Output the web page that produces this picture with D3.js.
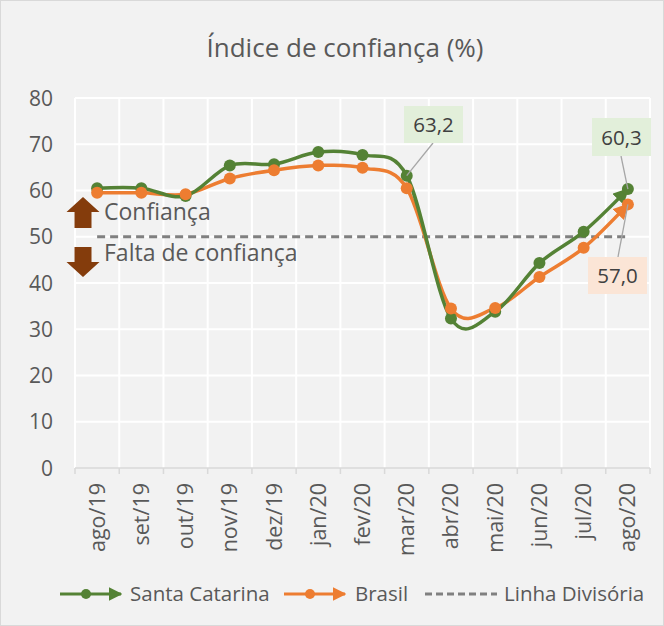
<!DOCTYPE html>
<html><head><meta charset="utf-8">
<script src="https://cdn.jsdelivr.net/npm/d3@7"></script>
<style>body{margin:0;background:#fff}svg{display:block}text{font-family:"Open Sans",sans-serif;fill:#595959}</style>
</head><body><svg id="c" width="664" height="626"></svg>
<script>
const categories = ["ago/19","set/19","out/19","nov/19","dez/19","jan/20","fev/20","mar/20","abr/20","mai/20","jun/20","jul/20","ago/20"];
const santaCatarina = [60.5,60.5,58.8,65.4,65.7,68.3,67.7,63.2,32.3,33.8,44.3,51.1,60.3];
const brasil = [59.5,59.5,59.2,62.6,64.4,65.4,64.9,60.5,34.5,34.6,41.3,47.6,57.0];
const divisoria = [50,50,50,50,50,50,50,50,50,50,50,50,50];
const yTicks = [0,10,20,30,40,50,60,70,80];
const seriesNames = ["Santa Catarina","Brasil","Linha Divisória"];
const title = "Índice de confiança (%)";

const svg = d3.select("#c");
const W = 664, H = 626;
svg.append("rect").attr("x",0.5).attr("y",0.5).attr("width",W-1).attr("height",H-1).attr("fill","#F2F2F2").attr("stroke","#D9D9D9");

const x = d3.scaleBand().domain(categories).range([75,650]).padding(0);
const cx = d => x(d) + x.bandwidth()/2;
const y = d3.scaleLinear().domain([0,80]).range([468,98]);

const green = "#548235", orange = "#ED7D31", gray = "#808080";

// gridlines
const g = svg.append("g");
g.selectAll(".hg").data(yTicks.slice(1)).join("line")
  .attr("x1",75).attr("x2",650).attr("y1",d=>y(d)).attr("y2",d=>y(d))
  .attr("stroke","#fff").attr("stroke-width",2);
const bounds = categories.map(c=>x(c)).concat([x.range()[1]]);
g.selectAll(".vg").data(bounds).join("line")
  .attr("x1",d=>d).attr("x2",d=>d).attr("y1",y(80)).attr("y2",y(0))
  .attr("stroke","#fff").attr("stroke-width",2);

// y axis labels
svg.append("g").selectAll("text").data(yTicks).join("text")
  .attr("x",53).attr("y",d=>y(d)+7.5).attr("text-anchor","end")
  .attr("font-size",21).text(d=>d);

// x axis
svg.append("line").attr("x1",75).attr("x2",650).attr("y1",y(0)).attr("y2",y(0)).attr("stroke","#D9D9D9").attr("stroke-width",1.5);
svg.append("g").selectAll("line").data(bounds).join("line")
  .attr("x1",d=>d).attr("x2",d=>d).attr("y1",y(0)).attr("y2",y(0)+6).attr("stroke","#D9D9D9").attr("stroke-width",1.5);
svg.append("g").selectAll("text").data(categories).join("text")
  .attr("transform",d=>`translate(${cx(d)+7.5},483) rotate(-90)`)
  .attr("text-anchor","end").attr("font-size",21.5).text(d=>d);

// title
svg.append("text").attr("x",345).attr("y",57).attr("text-anchor","middle").attr("font-size",26).text(title);

// markers
const defs = svg.append("defs");
[["ag",green],["ao",orange]].forEach(([id,col])=>{
  defs.append("marker").attr("id",id).attr("viewBox","0 0 10 10").attr("refX",9).attr("refY",5)
    .attr("markerWidth",4.5).attr("markerHeight",4.5).attr("orient","auto").attr("markerUnits","strokeWidth")
    .append("path").attr("d","M0,0L10,5L0,10Z").attr("fill",col);
});

// dashed line
const lineStraight = d3.line().x((d,i)=>cx(categories[i])).y(d=>y(d));
svg.append("path").attr("d",lineStraight(divisoria)).attr("fill","none").attr("stroke",gray)
  .attr("stroke-width",3).attr("stroke-dasharray","8,5");

// brown block arrows
const brown = "#843C0C";
svg.append("path").attr("d","M66.5,212 L83,197 L99.5,212 L91.5,212 L91.5,228 L74.5,228 L74.5,212 Z").attr("fill",brown);
svg.append("path").attr("d","M66.5,262 L83,277 L99.5,262 L91.5,262 L91.5,247 L74.5,247 L74.5,262 Z").attr("fill",brown);
svg.append("text").attr("x",104).attr("y",220).attr("font-size",23).text("Confiança");
svg.append("text").attr("x",104).attr("y",261).attr("font-size",23).text("Falta de confiança");

const curve = d3.line().x((d,i)=>cx(categories[i])).y(d=>y(d)).curve(d3.curveCatmullRom.alpha(0));
[[brasil,orange,"ao"],[santaCatarina,green,"ag"]].forEach(([vals,col,m])=>{
  svg.append("path").attr("d",curve(vals)).attr("fill","none").attr("stroke",col).attr("stroke-width",3.5)
    .attr("marker-end",`url(#${m})`);
});
[[santaCatarina,green],[brasil,orange]].forEach(([vals,col])=>{
  svg.append("g").selectAll("circle").data(vals).join("circle")
    .attr("cx",(d,i)=>cx(categories[i])).attr("cy",d=>y(d)).attr("r",6).attr("fill",col);
});

// data labels
function label(val, i, bx, by, bw, bh, fill, lx, ly){
  const px = cx(categories[i]), py = y(val);
  svg.append("line").attr("x1",lx).attr("y1",ly).attr("x2",px).attr("y2",py).attr("stroke","#A6A6A6").attr("stroke-width",1.3);
  svg.append("rect").attr("x",bx).attr("y",by).attr("width",bw).attr("height",bh).attr("fill",fill);
  svg.append("text").attr("x",bx+bw/2).attr("y",by+bh/2+7.5).attr("text-anchor","middle").attr("font-size",20.5)
    .style("fill","#404040").text(d3.format(".1f")(val).replace(".",","));
}
label(santaCatarina[7],7,404,106,59,37,"#E2EFDA",433,143);
label(santaCatarina[12],12,592,118,59,38,"#E2EFDA",621,156);
label(brasil[12],12,588,257,59,37,"#FBE5D6",618,257);

// legend
const ly = 594;
const leg = svg.append("g");
function legLine(x1,x2,col,m,dash){
  const l = leg.append("line").attr("x1",x1).attr("x2",x2).attr("y1",ly).attr("y2",ly).attr("stroke",col).attr("stroke-width",3);
  if(m) l.attr("marker-end",`url(#${m})`);
  if(dash) l.attr("stroke-dasharray",dash);
}
legLine(60,121,green,"ag");
leg.append("circle").attr("cx",86).attr("cy",ly).attr("r",5).attr("fill",green);
leg.append("text").attr("x",130).attr("y",ly+7).attr("font-size",20.5).text(seriesNames[0]);
legLine(284,345,orange,"ao");
leg.append("circle").attr("cx",310).attr("cy",ly).attr("r",5).attr("fill",orange);
leg.append("text").attr("x",355).attr("y",ly+7).attr("font-size",20.5).text(seriesNames[1]);
legLine(425,497,gray,null,"7,4");
leg.append("text").attr("x",504).attr("y",ly+7).attr("font-size",20.5).text(seriesNames[2]);
</script></body></html>
